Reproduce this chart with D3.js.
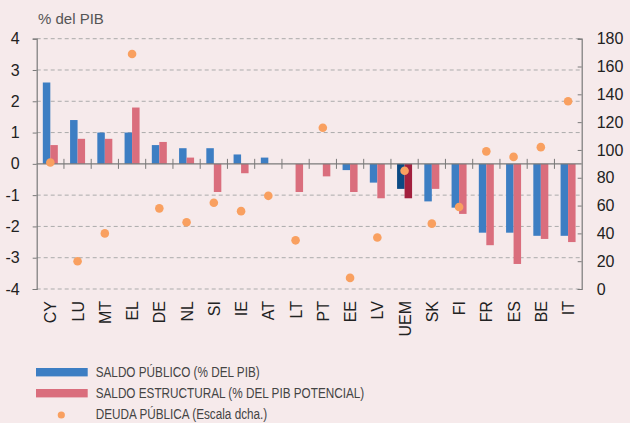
<!DOCTYPE html>
<html>
<head>
<meta charset="utf-8">
<script src="https://cdn.jsdelivr.net/npm/d3@7"></script>
<style>
    body { margin: 0; background: #f6eaeb; }
    svg { display: block; font-family: "Liberation Sans", Arial, sans-serif; }
</style>
</head>
<body>
<div id="chart"></div>
<script>
// Countries, left to right
const countries = ["CY", "LU", "MT", "EL", "DE", "NL", "SI", "IE", "AT", "LT",
    "PT", "EE", "LV", "UEM", "SK", "FI", "FR", "ES", "BE", "IT"];

// Saldo público (% del PIB)
const saldoPublico = [2.6, 1.4, 1.0, 1.0, 0.6, 0.5, 0.5, 0.3, 0.2, 0.0,
    0.0, -0.2, -0.6, -0.8, -1.2, -1.4, -2.2, -2.2, -2.3, -2.3];

// Saldo estructural (% del PIB potencial)
const saldoEstructural = [0.6, 0.8, 0.8, 1.8, 0.7, 0.2, -0.9, -0.3, 0.0, -0.9,
    -0.4, -0.9, -1.1, -1.1, -0.8, -1.6, -2.6, -3.2, -2.4, -2.5];

// Deuda pública (escala dcha.)
const deudaPublica = [91, 20, 40, 169, 58, 48, 62, 56, 67, 35,
    116, 8, 37, 85, 47, 59, 99, 95, 102, 135];

const leftTicks = [4, 3, 2, 1, 0, -1, -2, -3, -4];
const rightTicks = [0, 20, 40, 60, 80, 100, 120, 140, 160, 180];

const legendLabels = ["SALDO PÚBLICO (% DEL PIB)", "SALDO ESTRUCTURAL (% DEL PIB POTENCIAL)", "DEUDA PÚBLICA (Escala dcha.)"];

const width = 630, height = 423;
const margin = { top: 38.7, right: 48.3, bottom: 134, left: 36.7 };

const blue = "#3d7ec3", red = "#da6e7d", blueDark = "#0b4a84", redDark = "#a2203e", orange = "#f9a060";
const axisColor = "#7a7a7a", gridColor = "#ababab";

let svg = d3.select("#chart")
    .append("svg")
    .attr("width", width)
    .attr("height", height);

let x = d3.scaleBand()
    .domain(countries)
    .range([margin.left, width - margin.right]);

let y = d3.scaleLinear()
    .domain([-4, 4])
    .range([height - margin.bottom, margin.top]);

let y2 = d3.scaleLinear()
    .domain([0, 180])
    .range([height - margin.bottom, margin.top]);

const barW = 7.5;

// dashed gridlines
svg.append("g")
    .selectAll("line")
    .data(leftTicks.filter(d => d !== 0))
    .join("line")
    .attr("x1", margin.left)
    .attr("x2", width - margin.right)
    .attr("y1", d => y(d))
    .attr("y2", d => y(d))
    .attr("stroke", gridColor)
    .attr("stroke-width", 1)
    .attr("stroke-dasharray", "4,3");

// bars
let rows = countries.map((c, i) => ({ c, pub: saldoPublico[i], est: saldoEstructural[i] }));

svg.append("g")
    .selectAll("rect")
    .data(rows.filter(d => d.pub !== 0))
    .join("rect")
    .attr("x", d => x(d.c) + x.bandwidth() / 2 - barW)
    .attr("width", barW)
    .attr("y", d => y(Math.max(0, d.pub)))
    .attr("height", d => Math.abs(y(d.pub) - y(0)))
    .attr("fill", d => d.c === "UEM" ? blueDark : blue);

svg.append("g")
    .selectAll("rect")
    .data(rows.filter(d => d.est !== 0))
    .join("rect")
    .attr("x", d => x(d.c) + x.bandwidth() / 2)
    .attr("width", barW)
    .attr("y", d => y(Math.max(0, d.est)))
    .attr("height", d => Math.abs(y(d.est) - y(0)))
    .attr("fill", d => d.c === "UEM" ? redDark : red);

// zero line with category ticks
svg.append("line")
    .attr("x1", margin.left)
    .attr("x2", width - margin.right)
    .attr("y1", y(0))
    .attr("y2", y(0))
    .attr("stroke", axisColor)
    .attr("stroke-width", 1.2);

svg.append("g")
    .selectAll("line")
    .data(countries.slice(1))
    .join("line")
    .attr("x1", d => x(d))
    .attr("x2", d => x(d))
    .attr("y1", y(0) - 5)
    .attr("y2", y(0) + 5)
    .attr("stroke", axisColor)
    .attr("stroke-width", 1);

// left axis
let yAxis = svg.append("g")
    .attr("transform", `translate(${margin.left},0)`)
    .call(d3.axisLeft(y).tickValues(leftTicks).tickSize(4).tickPadding(13).tickFormat(d3.format("d")));

yAxis.select(".domain").attr("stroke", axisColor).attr("stroke-width", 1.2);
yAxis.selectAll(".tick line").attr("stroke", axisColor);
yAxis.selectAll(".tick text")
    .attr("font-size", 16)
    .attr("fill", "#222")
    .text(d => d < 0 ? "-" + Math.abs(d) : d);

// right axis (ticks inside)
let y2Axis = svg.append("g")
    .attr("transform", `translate(${width - margin.right},0)`)
    .call(d3.axisRight(y2).tickValues(rightTicks).tickSize(-4).tickPadding(15));

y2Axis.select(".domain").attr("stroke", axisColor).attr("stroke-width", 1.2);
y2Axis.selectAll(".tick line").attr("stroke", axisColor);
y2Axis.selectAll(".tick text").attr("font-size", 16).attr("fill", "#222");

// x labels
svg.append("g")
    .selectAll("text")
    .data(countries)
    .join("text")
    .attr("transform", d => `translate(${x(d) + x.bandwidth() / 2 + 6},${y(-4) + 12}) rotate(-90)`)
    .attr("text-anchor", "end")
    .attr("font-size", 16)
    .attr("fill", "#222")
    .text(d => d);

// debt dots
svg.append("g")
    .selectAll("circle")
    .data(countries.map((c, i) => ({ c, v: deudaPublica[i] })))
    .join("circle")
    .attr("cx", d => x(d.c) + x.bandwidth() / 2)
    .attr("cy", d => y2(d.v))
    .attr("r", 4.3)
    .attr("fill", orange);

// unit label
svg.append("text")
    .attr("x", 38)
    .attr("y", 24)
    .attr("font-size", 15)
    .attr("fill", "#555")
    .text("% del PIB");

// legend
let legend = svg.append("g");

legend.append("rect").attr("x", 36).attr("y", 368).attr("width", 51.7).attr("height", 8.4).attr("fill", blue);
legend.append("rect").attr("x", 36).attr("y", 389).attr("width", 51.7).attr("height", 8.4).attr("fill", red);
legend.append("circle").attr("cx", 61.3).attr("cy", 415).attr("r", 3.6).attr("fill", orange);

// condensed look of the original legend font
legend.selectAll("text")
    .data(legendLabels)
    .join("text")
    .attr("transform", (d, i) => `translate(95.7,${377.3 + i * 21}) scale(0.81,1)`)
    .attr("font-size", 14.5)
    .attr("fill", "#444")
    .text(d => d);
</script>
</body>
</html>
